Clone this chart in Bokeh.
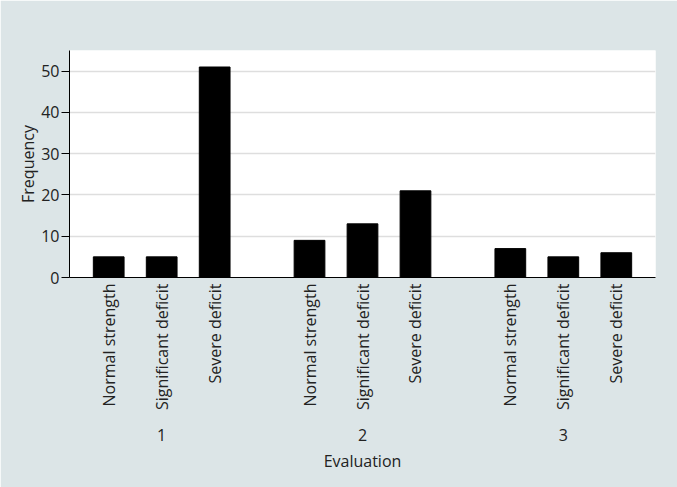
import math
from bokeh.plotting import figure
from bokeh.models import (ColumnDataSource, Range1d, FixedTicker, LinearAxis)
from bokeh.embed import file_html
from bokeh.resources import INLINE

evaluations = ["1", "2", "3"]
strength = ["Normal strength", "Significant deficit", "Severe deficit"]
freq_1 = [5, 5, 51]
freq_2 = [9, 13, 21]
freq_3 = [7, 5, 6]
y_ticks = [0, 10, 20, 30, 40, 50]

BG = "#dce5e7"
TXT = "#222222"
FONT = "Open Sans"
FS = "16px"

GP = 0.79   # gap between groups (in bar slots)
RP = 0.24   # outer padding

n_sub = len(strength)
n_grp = len(evaluations)
groups = [freq_1, freq_2, freq_3]

# slot positions of each bar (layout, derived from group/category index)
xs, ys, labels = [], [], {}
for g, vals in enumerate(groups):
    for i, v in enumerate(vals):
        xpos = round(g * (n_sub + GP) + i + 0.5, 4)
        xs.append(xpos)
        ys.append(v)
        labels[xpos] = strength[i]
grp_centers = [round(g * (n_sub + GP) + n_sub / 2, 4) for g in range(n_grp)]

src = ColumnDataSource(data=dict(x=xs, y=ys))

p = figure(x_range=Range1d(-RP, n_grp * n_sub + (n_grp - 1) * GP + RP),
           y_range=Range1d(0, 55), width=677, height=487,
           output_backend="svg", toolbar_location=None, x_axis_location=None,
           min_border_left=69, min_border_right=22, min_border_top=50, min_border_bottom=210)
p.background_fill_color = "white"
p.border_fill_color = BG
p.outline_line_color = None

p.vbar(x="x", top="y", width=0.58, source=src, fill_color="black", line_color="black")

# y axis
p.yaxis.ticker = FixedTicker(ticks=y_ticks)
p.yaxis.axis_label = "Frequency"
p.yaxis.axis_label_text_font = FONT
p.yaxis.axis_label_text_font_size = FS
p.yaxis.axis_label_text_font_style = "normal"
p.yaxis.axis_label_text_color = TXT
p.yaxis.major_label_text_font = FONT
p.yaxis.major_label_text_font_size = FS
p.yaxis.major_label_text_color = TXT
p.yaxis.major_tick_in = 0
p.yaxis.major_tick_out = 8
p.yaxis.minor_tick_line_color = None
p.yaxis.axis_line_color = "black"
p.yaxis.major_label_standoff = 2
p.yaxis.axis_label_standoff = -1

# x axis: strength categories
xa = LinearAxis(ticker=FixedTicker(ticks=xs), major_label_overrides=labels)
xa.major_label_orientation = math.pi / 2
xa.major_label_text_font = FONT
xa.major_label_text_font_size = FS
xa.major_label_text_color = TXT
xa.major_tick_line_color = None
xa.minor_tick_line_color = None
xa.major_tick_out = 0
xa.major_tick_in = 0
xa.major_label_standoff = 6
xa.axis_line_color = "black"
p.add_layout(xa, "below")

# second axis below: evaluation group labels
ga = LinearAxis(ticker=FixedTicker(ticks=grp_centers),
                major_label_overrides={c: e for c, e in zip(grp_centers, evaluations)})
ga.axis_line_color = None
ga.major_tick_line_color = None
ga.minor_tick_line_color = None
ga.major_tick_out = 0
ga.major_tick_in = 0
ga.major_label_standoff = 15
ga.major_label_text_font = FONT
ga.major_label_text_font_size = FS
ga.major_label_text_color = TXT
ga.axis_label = "Evaluation"
ga.axis_label_text_font = FONT
ga.axis_label_text_font_size = FS
ga.axis_label_text_font_style = "normal"
ga.axis_label_text_color = TXT
ga.axis_label_standoff = 6
p.add_layout(ga, "below")

p.xgrid.grid_line_color = None
p.ygrid.grid_line_color = "#dedede"
p.ygrid.grid_line_width = 1.5
p.ygrid.ticker = FixedTicker(ticks=y_ticks[1:])

open("out.html", "w").write(file_html(p, INLINE))
